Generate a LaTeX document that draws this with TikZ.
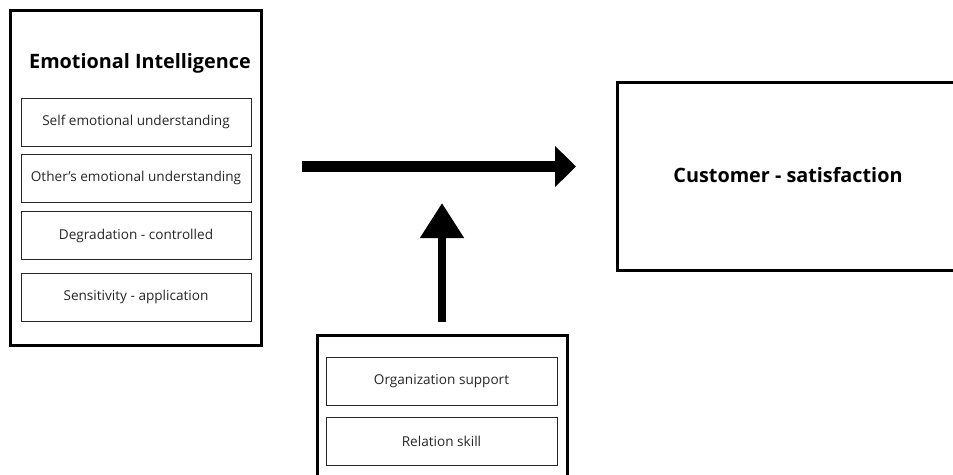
\documentclass[tikz,border=0pt]{standalone}
\usepackage{fontspec}
\setmainfont{Open Sans}
\usetikzlibrary{arrows.meta}
\begin{document}
\begin{tikzpicture}[x=1pt,y=-1pt,
  outerbox/.style={draw=black,line width=3pt},
  innerbox/.style={draw=black!85,line width=0.9pt,minimum width=230pt,minimum height=48pt,inner sep=0pt,font=\fontsize{13.6}{15}\selectfont,text=black!85},
  bigarrow/.style={line width=#1,-{Triangle[length=21pt,width=40pt]}}]
\useasboundingbox (0,0) rectangle (953,474);
% left group
\draw[outerbox] (10,10) rectangle (261,345);
\node[font=\bfseries\fontsize{19.8}{22}\selectfont] (title) at (140,63) {Emotional Intelligence};
\node[innerbox] (s1) at (136,122) {Self emotional understanding};
\node[innerbox] (s2) at (136,178) {Other’s emotional understanding};
\node[innerbox] (s3) at (136,235.5) {Degradation - controlled};
\node[innerbox] (s4) at (136,297) {Sensitivity - application};
% right box
\draw[outerbox] (960,82) -- (617,82) -- (617,270) -- (960,270);
\node[font=\bfseries\fontsize{19.8}{22}\selectfont] (cs) at (788,175) {Customer - satisfaction};
% bottom group
\draw[outerbox] (317,480) -- (317,335) -- (567,335) -- (567,480);
\node[innerbox,minimum width=231pt] (m1) at (441.5,381) {Organization support};
\node[innerbox,minimum width=231pt] (m2) at (441.5,441) {Relation skill};
% arrows
\coordinate (h1) at (302,166.5);
\coordinate (h2) at (576,166.5);
\coordinate (v1) at (442,322);
\coordinate (v2) at (442,203);
\draw[bigarrow=10.5pt] (h1) -- (h2);
\draw[line width=8pt,-{Triangle[length=35pt,width=42pt]}] (v1) -- (v2);
\end{tikzpicture}
\end{document}
